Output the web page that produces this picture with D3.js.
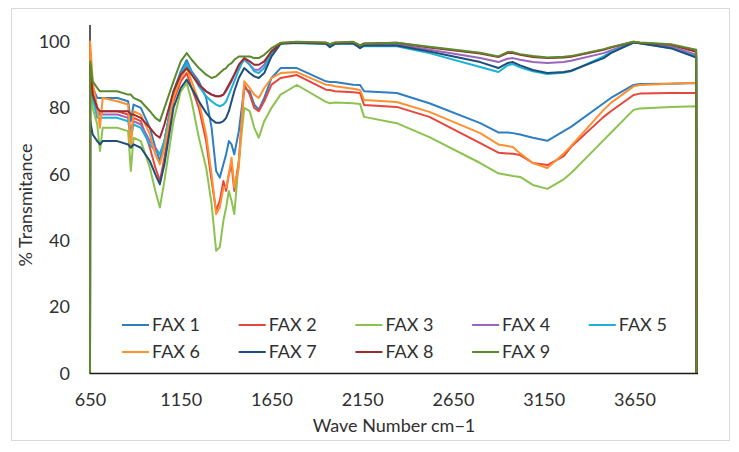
<!DOCTYPE html>
<html><head><meta charset="utf-8">
<script src="https://cdn.jsdelivr.net/npm/d3@7"></script>
<style>body{margin:0;background:#fff}svg{display:block}text{font-family:Lato,"Open Sans",sans-serif;fill:#303030}</style>
</head><body>
<svg id="c" width="739" height="452"></svg>
<script>
// wavenumbers (cm-1)
const wavenumbers = [650,
 651,665,690,705,720,800,860,875,890,930,980,1010,1035,1060,1110,1150,
 1183,1210,1250,1290,1320,1345,1365,1385,1400,1415,1430,1445,1470,1500,1530,1555,1580,1610,1650,1700,
 1790,1950,1972,2000,2100,2138,2160,2340,2520,2800,2900,2950,2980,3020,3090,3170,3260,3300,3480,3520,3645,3680,3850,3990,
 3992];

const fax1 = [0,
 93,86,83,83,83,83,82,76,81,80,74,68,64,70,85,91,
 94.4,91,88,83,74,61,59,63,66,70,69,66,73,86,85,81,79.5,83,89,92,
 92,88,87.8,87.8,87,86.9,85,84.5,81.4,75.4,72.6,72.6,72.4,72,71,70.1,73,74.3,81.4,83,86.9,87.2,87.3,87.5,
 0];
const fax2 = [0,
 92,85,79,78,79,79,78,72,77,76,68,62,58,65,82,88,
 90.5,86,80,70,58,49,52,58,55,60,63,55,64,87,84,80,79,82,87,89,
 89.9,85.5,85.4,85,84.7,84.5,80.9,80.3,77.3,69.4,66.5,66.3,66.2,65.8,63.4,62.8,65.5,68.2,77.3,79,83.9,84.3,84.5,84.5,
 0];
const fax3 = [0,
 90,80,75,67,74,74,73,61,71,70,62,55,50,58,76,85,
 87.5,82,71,62,51,37,38,46,50,55,52,48,64,80,79,74,71,76,80,84,
 86.9,81.8,81.4,81.6,81.4,81.2,77.3,75.4,71.2,63.4,60.3,59.8,59.5,59.2,56.8,55.6,58.5,60.3,70.3,72.5,79.4,79.8,80.3,80.5,
 0];
const fax4 = [0,
 92,84,79,78,78,78,77,72,76,75,70,68,66,70,84,90,
 93,90.5,87,85,84,83.5,83.5,84,85,86.5,88,90,92.5,94.5,93,91.5,91.5,93,97,99.5,
 99.7,99.5,99,99.5,99.7,98.6,99,99.2,97.5,95,93.8,94.8,95,94.5,93.8,93.5,93.8,94.2,96.5,97.3,99.8,99.5,98.5,96,
 0];
const fax5 = [0,
 92,83,77,77,77,77,76,71,75,74,69,67,66,70,84,90,
 93.5,90.5,86.5,83.5,82,81,80.5,81,82,84,86,88,91.5,95,93,91,90.5,92,96.5,99.5,
 99.5,99.3,98.8,99.3,99.3,98.2,98.6,98.6,96.5,92.3,90.8,92.8,93.2,92.2,91,90.2,90.6,91,95.5,96.8,99.7,99.5,98,95.4,
 0];
const fax6 = [0,
 100,88,80,74,83,82,81,68,79,78,72,66,63,68,83,89,
 92,88,82,72,60,48,50,56,56,60,65,56,62,88,86,84,83,86,89,90.5,
 90.8,87,86.9,86.5,85.8,85.4,82.4,81.8,78.8,72.4,69,68.5,68.2,66.3,63.4,61.9,66.3,68.5,79.4,81.5,86.5,86.9,87.3,87.6,
 0];
const fax7 = [0,
 76,72,70,69,70,70,69,68,69,68,64,60,57,63,80,86,
 88.5,86,82,78.5,76.5,75.5,75.5,76,77,79,82,85,89,92,90.5,89.5,89,90.5,95.5,99.3,
 99.6,99.3,98.3,99.3,99.5,98,98.8,98.8,97,93.8,92,93.5,93.8,92.8,91.4,90.5,90.8,91.2,95,96.5,99.7,99.5,98,95.2,
 0];
const fax8 = [0,
 93,84,80,79,79,79,79,78,78,77,74,72,71,75,85,90,
 92,90,87,85,84,83.5,83.5,84,85.5,87,88.5,90,93,95,94,93,93,94,97,99.5,
 99.8,99.6,99.2,99.6,99.8,98.8,99.4,99.6,98.2,96.4,95.3,96.5,96.5,96,95.3,95,95.2,95.4,97.5,98.2,99.9,99.6,99,96.9,
 0];
const fax9 = [0,
 94,88,86,85,85,85,84,84,83,82,79,77,76,80,88,94,
 96.5,94.5,92,90,89,89.5,90.5,91.5,92,93,93.5,94.5,95.5,95.5,95.5,95,95,96,98,99.6,
 99.9,99.7,99.2,99.7,99.9,98.8,99.3,99.6,98.4,96.6,95.5,96.8,96.8,96.2,95.6,95.2,95.4,95.6,97.7,98.3,99.9,99.7,99.2,97.5,
 0];

const seriesNames = ["FAX 1","FAX 2","FAX 3","FAX 4","FAX 5","FAX 6","FAX 7","FAX 8","FAX 9"];
const seriesValues = [fax1,fax2,fax3,fax4,fax5,fax6,fax7,fax8,fax9];
const seriesColors = ["#2e7ec2","#e8463c","#8cc34f","#9966bb","#1ab3d8","#ff9030","#1f4e7a","#9e2a2b","#5b8a2d"];
const xTicks = [650,1150,1650,2150,2650,3150,3650];
const yTicks = [0,20,40,60,80,100];

const svg = d3.select("#c");
svg.append("rect").attr("x",11.5).attr("y",8.5).attr("width",718).attr("height",432)
  .attr("fill","#fff").attr("stroke","#d9d9d9").attr("stroke-width",1);

const x = d3.scaleLinear().domain([650,4000]).range([90,698]);
const y = d3.scaleLinear().domain([0,105]).range([373.5,24.9]);

// y axis line
svg.append("line").attr("x1",90).attr("x2",90).attr("y1",y(105)).attr("y2",y(0))
  .attr("stroke","#595959").attr("stroke-width",2);

// tick labels
const yAxis = d3.axisLeft(y).tickValues(yTicks).tickSize(0).tickPadding(20);
const gy = svg.append("g").attr("transform","translate(90,0)").call(yAxis);
gy.select(".domain").remove();
gy.selectAll("text").style("font-size","18px").attr("fill","#303030").style("font-family","Lato");

const xAxis = d3.axisBottom(x).tickValues(xTicks).tickSize(0).tickPadding(20).tickFormat(d3.format("d"));
const gx = svg.append("g").attr("transform","translate(0,373.5)").call(xAxis);
gx.select(".domain").remove();
gx.selectAll("text").style("font-size","18px").attr("fill","#303030").style("font-family","Lato");

// lines
const line = d3.line().x((d,i)=>x(wavenumbers[i])).y(d=>y(d));
seriesValues.forEach((vals,k)=>{
  svg.append("path").datum(vals).attr("d",line).attr("fill","none")
    .attr("stroke",seriesColors[k]).attr("stroke-width",2).attr("stroke-linejoin","round");
});

// x axis line
svg.append("line").attr("x1",90).attr("x2",698).attr("y1",373.5).attr("y2",373.5)
  .attr("stroke","#1a1a1a").attr("stroke-width",1.5);

// titles
svg.append("text").attr("x",394).attr("y",432).attr("text-anchor","middle")
  .style("font-size","18px").text("Wave Number cm\u22121");
svg.append("text").attr("transform","translate(32,205) rotate(-90)").attr("text-anchor","middle")
  .style("font-size","18px").text("% Transmitance");

// legend
const legX0 = 122, legDX = 116.7, legRows = [325, 352];
seriesNames.forEach((n,k)=>{
  const col = k%5, row = Math.floor(k/5);
  const lx = legX0 + col*legDX, ly = legRows[row];
  svg.append("line").attr("x1",lx).attr("x2",lx+27).attr("y1",ly).attr("y2",ly)
    .attr("stroke",seriesColors[k]).attr("stroke-width",2);
  svg.append("text").attr("x",lx+30).attr("y",ly).attr("dy","0.35em")
    .style("font-size","18px").text(n);
});
</script>
</body></html>
